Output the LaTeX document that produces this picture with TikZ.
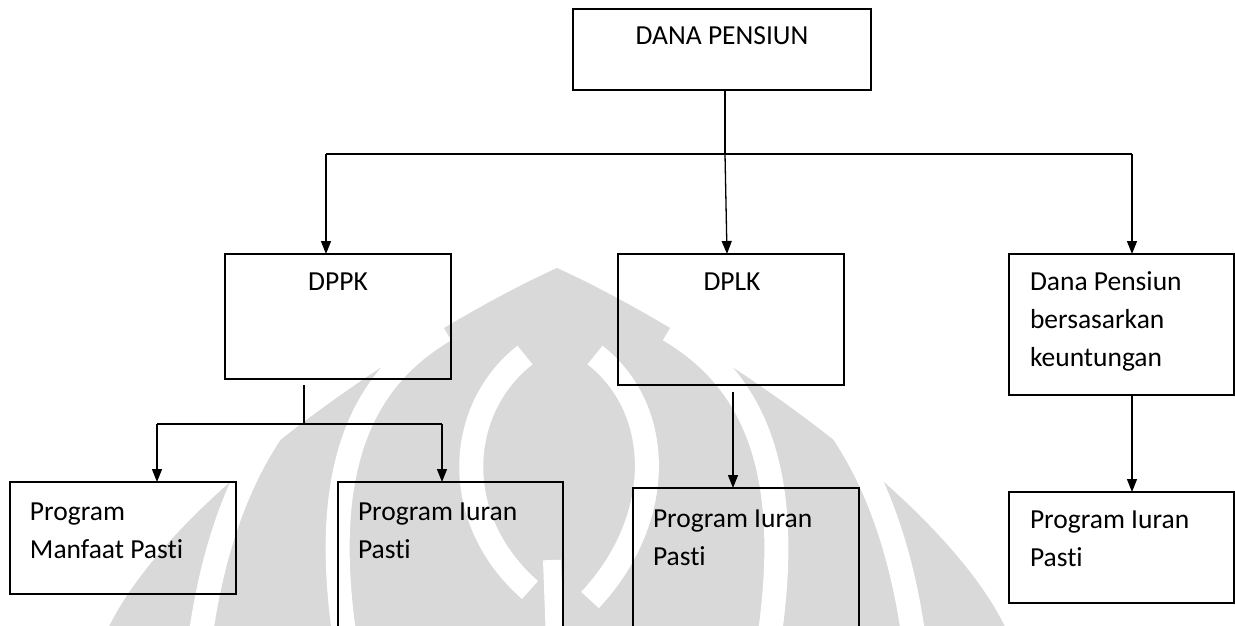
\documentclass[tikz,border=0pt]{standalone}
\usepackage{fontspec}
\setmainfont{Carlito}[Ligatures=NoCommon]
\usetikzlibrary{arrows.meta}
\definecolor{wm}{RGB}{217,217,217}
\tikzset{
  box/.style={draw=black, line width=1.5pt, rectangle, inner sep=0pt, outer sep=0pt, anchor=north west},
  conn/.style={draw=black, line width=1.3pt},
  arr/.style={conn, -{Triangle[length=13pt,width=10pt]}},
  lbl/.style={inner sep=0pt, outer sep=0pt, font=\fontsize{27.5}{38}\selectfont},
  band/.style={draw=white, line width=24pt}
}
\begin{document}
\begin{tikzpicture}[x=1pt, y=-1pt]
\useasboundingbox (0,0) rectangle (1235,626);
\begin{scope}
\clip (0,0) rectangle (1235,626);
% watermark
\fill[wm] (103,640) .. controls (160,500) and (420,330) .. (557,268)
          .. controls (694,330) and (954,500) .. (1011,640) -- cycle;
\draw[band] (525,355) .. controls (455,410) and (450,520) .. (530,590);
\draw[band] (595,355) .. controls (665,410) and (665,520) .. (590,600);
\draw[band, line width=18pt] (552,560) -- (555,640);
\draw[band] (445,330) .. controls (360,380) and (320,470) .. (345,640);
\draw[band] (669,330) .. controls (754,380) and (794,470) .. (769,640);
\draw[band] (300,395) .. controls (250,450) and (215,530) .. (200,640);
\draw[band] (814,395) .. controls (864,450) and (899,530) .. (914,640);
% boxes
\node[box, minimum width=298pt, minimum height=81pt] (top) at (573,9) {};
\node[box, minimum width=226pt, minimum height=125pt] (dppk) at (225,254) {};
\node[box, minimum width=226pt, minimum height=131pt] (dplk) at (618,254) {};
\node[box, minimum width=225pt, minimum height=141pt] (dpkeu) at (1009,254) {};
\node[box, minimum width=226pt, minimum height=112pt] (pmp) at (10,482) {};
\node[box, minimum width=225pt, minimum height=180pt] (pip1) at (338,482) {};
\node[box, minimum width=226pt, minimum height=180pt] (pip2) at (633,488) {};
\node[box, minimum width=225pt, minimum height=111pt] (pip3) at (1009,492) {};
% connectors
\coordinate (j1) at (725,154);
\coordinate (jl) at (326,154);
\coordinate (jr) at (1132,154);
\draw[conn] (top.south -| j1) -- (j1);
\draw[conn, line width=1.6pt] (jl) -- (jr);
\draw[arr] (jl) -- (jl |- dppk.north);
\draw[arr] (j1) -- (727,254);
\draw[arr] (jr) -- (jr |- dpkeu.north);
\coordinate (d1) at (304,385);
\coordinate (d2) at (304,424);
\coordinate (dl) at (157,424);
\coordinate (dr) at (442,424);
\draw[conn] (d1) -- (d2);
\draw[conn] (dl) -- (dr);
\draw[arr] (dl) -- (dl |- pmp.north);
\draw[arr] (dr) -- (dr |- pip1.north);
\coordinate (e1) at (733,392);
\draw[arr] (e1) -- (e1 |- pip2.north);
\coordinate (f1) at (1132,395);
\draw[arr] (f1) -- (f1 |- pip3.north);
% labels
\node[lbl, anchor=base] (tTop) at (722,45) {DANA PENSIUN};
\node[lbl, anchor=base] (tDppk) at (338,290) {DPPK};
\node[lbl, anchor=base] (tDplk) at (732,290) {DPLK};
\node[lbl, anchor=base west] (tKeu) at (1030,290) {\begin{tabular}[t]{@{}l@{}}Dana Pensiun\\bersasarkan\\keuntungan\end{tabular}};
\node[lbl, anchor=base west] (tPmp) at (30,520) {\begin{tabular}[t]{@{}l@{}}Program\\Manfaat Pasti\end{tabular}};
\node[lbl, anchor=base west] (tPip1) at (358,520) {\begin{tabular}[t]{@{}l@{}}Program Iuran\\Pasti\end{tabular}};
\node[lbl, anchor=base west] (tPip2) at (653,527) {\begin{tabular}[t]{@{}l@{}}Program Iuran\\Pasti\end{tabular}};
\node[lbl, anchor=base west] (tPip3) at (1030,528) {\begin{tabular}[t]{@{}l@{}}Program Iuran\\Pasti\end{tabular}};
\end{scope}
\end{tikzpicture}
\end{document}
